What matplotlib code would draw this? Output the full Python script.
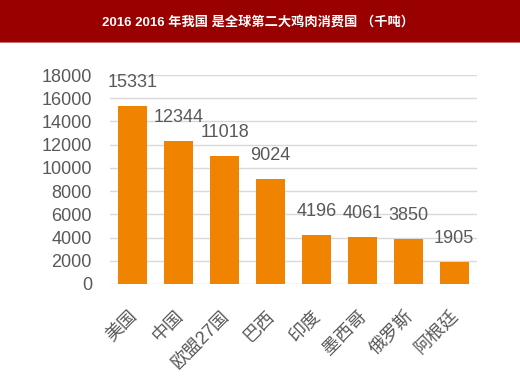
import matplotlib
matplotlib.use("Agg")
import matplotlib.pyplot as plt
from matplotlib.patches import Rectangle
from matplotlib.transforms import ScaledTranslation

categories = ["美国", "中国", "欧盟27国", "巴西", "印度", "墨西哥", "俄罗斯", "阿根廷"]
values = [15331, 12344, 11018, 9024, 4196, 4061, 3850, 1905]
yticks = [0, 2000, 4000, 6000, 8000, 10000, 12000, 14000, 16000, 18000]
title = "2016 2016 年我国 是全球第二大鸡肉消费国 （千吨）"

plt.rcParams['font.family'] = ['Liberation Sans', 'Noto Sans CJK SC', 'DejaVu Sans']

W, H = 520, 377
fig = plt.figure(figsize=(W / 100, H / 100), dpi=100)
fig.patch.set_facecolor('white')

# title band
fig.patches.append(Rectangle((0, 1 - 42 / H), 1, 42 / H, transform=fig.transFigure,
                             facecolor='#990000', edgecolor='none', zorder=0))
fig.patches.append(Rectangle((0, 1 - 43 / H), 1, 1.2 / H, transform=fig.transFigure,
                             facecolor='#d07070', edgecolor='none', zorder=0))
fig.text(0.497, 1 - 22 / H, title, color='white', fontsize=9.5, fontweight='bold',
         ha='center', va='center')

ax = fig.add_axes([110 / W, (H - 284) / H, 367 / W, 209 / H])
x = list(range(len(categories)))
ax.bar(x, values, width=0.63, color='#F08300', zorder=2)
ax.set_xlim(-0.5, len(categories) - 0.5)
ax.set_ylim(0, 18000)
ax.set_yticks(yticks)
ax.set_yticklabels([str(v) for v in yticks])
ax.grid(axis='y', color='#d9d9d9', linewidth=1, zorder=0)
ax.set_axisbelow(True)
for s in ['top', 'right', 'left', 'bottom']:
    ax.spines[s].set_visible(False)
ax.tick_params(axis='both', length=0, labelsize=13, labelcolor='#595959')
ax.tick_params(axis='y', pad=13)
ax.set_xticks(x)
ax.set_xticklabels(categories, rotation=45, ha='right', va='top', rotation_mode='anchor')
ax.tick_params(axis='x', pad=17)
shift = ScaledTranslation(-4 / 100, 0, fig.dpi_scale_trans)
for lbl in ax.get_xticklabels():
    lbl.set_transform(lbl.get_transform() + shift)

for xi, v in zip(x, values):
    ax.annotate(str(v), (xi, v), xytext=(0, 17), textcoords='offset points',
                ha='center', va='center', fontsize=13, color='#595959')

fig.savefig('out.png', dpi=100)
